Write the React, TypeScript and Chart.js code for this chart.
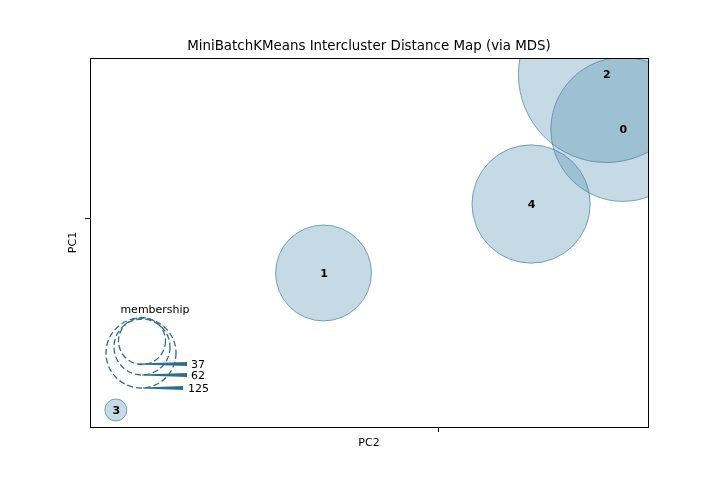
import React, { useEffect, useRef } from "react";
import { Chart, registerables } from "chart.js";
Chart.register(...registerables);

// ---- data ----
const clusterIds = ["0", "1", "2", "3", "4"];
const pc2Values = [1.32, -0.826, 1.202, -2.315, 0.662];
const pc1Values = [0.555, -0.34, 0.897, -1.194, 0.09];
const memberships = [103, 50, 150, 10, 72];
const legendSizes = [37, 62, 125];
const xTicks = [0];
const yTicks = [0];

const X_MIN = -2.5, X_MAX = 1.5, Y_MIN = -1.3, Y_MAX = 1.0;
const MIN_R = 11, MAX_R = 88;
const FONT = "'DejaVu Sans', sans-serif";

function radiusFor(m: number): number {
  const lo = Math.min(...memberships), hi = Math.max(...memberships);
  const a2 = MIN_R * MIN_R + ((m - lo) / (hi - lo)) * (MAX_R * MAX_R - MIN_R * MIN_R);
  return Math.sqrt(a2);
}

const LEGEND_COLOR = "#2d6e8e";
// legend glyph styling (offsets from chart area left / bottom)
const legendGlyphs = [
  { cx: 52, cy: -86, r: 23.5, x0: 48, x1: 97, ly: -63, tx: 101 },
  { cx: 52, cy: -80, r: 28, x0: 52, x1: 97, ly: -52, tx: 101 },
  { cx: 51, cy: -74, r: 35, x0: 53, x1: 93, ly: -39, tx: 98 },
];

const overlayPlugin = {
  id: "overlay",
  beforeDraw(chart: any) {
    const c = chart.ctx;
    c.save();
    c.fillStyle = "#fff";
    c.fillRect(0, 0, chart.width, chart.height);
    c.restore();
  },
  afterDatasetsDraw(chart: any) {
    const c = chart.ctx;
    const a = chart.chartArea;
    const meta = chart.getDatasetMeta(0);
    c.save();
    // bubble labels
    c.fillStyle = "#000";
    c.font = `bold 11px ${FONT}`;
    c.textAlign = "center";
    c.textBaseline = "middle";
    meta.data.forEach((el: any, i: number) => {
      c.fillText(clusterIds[i], el.x + 0.5, el.y + 1);
    });
    // frame
    c.strokeStyle = "#000";
    c.lineWidth = 1;
    c.strokeRect(Math.round(a.left) + 0.5, Math.round(a.top) + 0.5, Math.round(a.right - a.left), Math.round(a.bottom - a.top));
    // title
    c.font = `13.4px ${FONT}`;
    c.fillText("MiniBatchKMeans Intercluster Distance Map (via MDS)", (a.left + a.right) / 2, a.top - 11);
    // axis titles
    c.font = `11px ${FONT}`;
    c.fillText("PC2", (a.left + a.right) / 2, a.bottom + 16);
    c.save();
    c.translate(a.left - 17, (a.top + a.bottom) / 2);
    c.rotate(-Math.PI / 2);
    c.fillText("PC1", 0, 0);
    c.restore();
    // legend
    c.fillText("membership", a.left + 65, a.bottom - 117);
    c.strokeStyle = LEGEND_COLOR;
    c.lineWidth = 1.3;
    c.setLineDash([6, 3]);
    legendGlyphs.forEach((g) => {
      c.beginPath();
      c.arc(a.left + g.cx, a.bottom + g.cy, g.r, 0, Math.PI * 2);
      c.stroke();
    });
    c.setLineDash([]);
    c.fillStyle = LEGEND_COLOR;
    legendGlyphs.forEach((g) => {
      const y = a.bottom + g.ly;
      c.beginPath();
      c.moveTo(a.left + g.x0, y - 0.4);
      c.lineTo(a.left + g.x1, y - 2);
      c.lineTo(a.left + g.x1, y + 2);
      c.lineTo(a.left + g.x0, y + 0.4);
      c.closePath();
      c.fill();
    });
    c.fillStyle = "#000";
    c.textAlign = "left";
    legendGlyphs.forEach((g, i) => {
      c.fillText(String(legendSizes[i]), a.left + g.tx, a.bottom + g.ly + 1);
    });
    c.restore();
  },
};

export default function App() {
  const ref = useRef<HTMLCanvasElement | null>(null);
  useEffect(() => {
    document.body.style.margin = "0";
    if (!ref.current) return;
    const data = clusterIds.map((_, i) => ({ x: pc2Values[i], y: pc1Values[i], r: radiusFor(memberships[i]) }));
    const chart = new Chart(ref.current, {
      type: "bubble",
      data: {
        datasets: [
          {
            data,
            backgroundColor: "rgba(66,134,168,0.3)",
            borderColor: "rgba(46,113,147,0.6)",
            borderWidth: 1,
            hoverRadius: 0,
            clip: 0,
          } as any,
        ],
      },
      options: {
        animation: false,
        responsive: false,
        events: [],
        layout: { autoPadding: false, padding: { top: 58, right: 72, left: 0, bottom: 0 } },
        plugins: { legend: { display: false }, tooltip: { enabled: false }, title: { display: false } },
        scales: {
          x: {
            type: "linear",
            min: X_MIN,
            max: X_MAX,
            afterBuildTicks: (s: any) => { s.ticks = xTicks.map((v) => ({ value: v })); },
            afterFit: (s: any) => { s.height = 53; },
            ticks: { callback: () => "" },
            grid: { drawOnChartArea: false, drawTicks: true, tickLength: 5, color: "#000" },
            border: { display: true, color: "#000" },
          },
          y: {
            type: "linear",
            min: Y_MIN,
            max: Y_MAX,
            afterBuildTicks: (s: any) => { s.ticks = yTicks.map((v) => ({ value: v })); },
            afterFit: (s: any) => { s.width = 90; },
            ticks: { callback: () => "" },
            grid: { drawOnChartArea: false, drawTicks: true, tickLength: 5, color: "#000" },
            border: { display: true, color: "#000" },
          },
        },
      },
      plugins: [overlayPlugin],
    } as any);
    return () => chart.destroy();
  }, []);
  return (
    <div style={{ width: 720, height: 480 }}>
      <canvas ref={ref} width={720} height={480} style={{ display: "block" }} />
    </div>
  );
}
